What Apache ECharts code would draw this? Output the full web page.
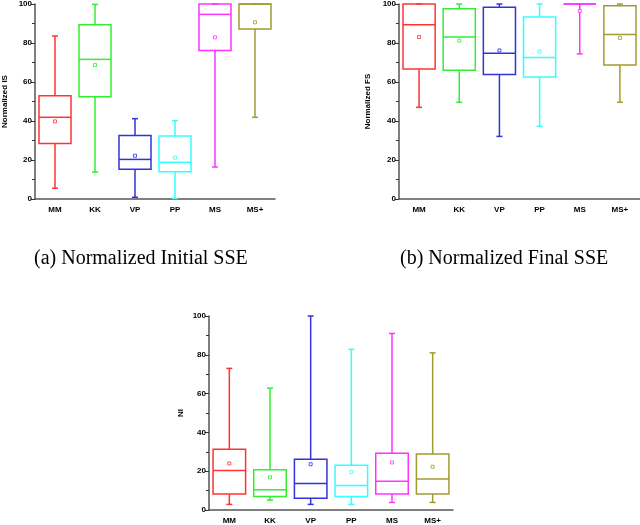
<!DOCTYPE html>
<html>
<head>
<meta charset="utf-8">
<script src="https://cdn.jsdelivr.net/npm/echarts@6/dist/echarts.min.js"></script>
<style>html,body{margin:0;padding:0;background:#fff}#c{width:640px;height:525px}</style>
</head>
<body>
<div id="c"></div>
<script>
// Categories and colours
var categories = ['MM', 'KK', 'VP', 'PP', 'MS', 'MS+'];
var colors = ['#ff3333', '#33ee33', '#3333dd', '#33ffff', '#ff33ff', '#a09c30'];
var yTicks = [0, 20, 40, 60, 80, 100];

// Chart (a) Normalized IS: [min, q1, median, q3, max]
var isBox = [
  [5.5, 28.5, 41.9, 53.0, 83.6],
  [13.8, 52.5, 71.6, 89.4, 99.8],
  [0.9, 15.2, 20.3, 32.6, 41.2],
  [0.3, 14.0, 18.8, 32.3, 40.2],
  [16.4, 76.2, 94.7, 100, 100],
  [41.9, 87.2, 100, 100, 100]
];
var isMean = [39.8, 68.7, 22.2, 21.2, 82.9, 90.6];

// Chart (b) Normalized FS
var fsBox = [
  [47.0, 66.7, 89.4, 100, 100],
  [49.6, 66.0, 83.1, 97.6, 100],
  [32.1, 63.9, 74.7, 98.3, 100],
  [37.3, 62.6, 72.6, 93.3, 100],
  [74.4, 100, 100, 100, 100],
  [49.6, 68.7, 84.4, 99.1, 100]
];
var fsMean = [83.1, 81.2, 76.2, 75.6, 96.4, 82.6];

// Chart (c) NI
var niBox = [
  [2.9, 8.2, 20.4, 31.3, 73.0],
  [5.1, 7.0, 10.5, 20.7, 62.8],
  [2.9, 6.0, 13.6, 26.2, 100],
  [2.9, 7.0, 12.6, 23.1, 82.8],
  [3.9, 8.3, 14.8, 29.3, 91.0],
  [3.9, 8.3, 16.0, 28.9, 81.0]
];
var niMean = [24.0, 16.8, 23.6, 19.6, 24.5, 22.3];

var yNames = ['Normalized IS', 'Normalized FS', 'NI'];
var captions = ['(a) Normalized Initial SSE', '(b) Normalized Final SSE'];

var chart = echarts.init(document.getElementById('c'));

var grids = [
  {left: 33, top: 4, width: 242, height: 195},
  {left: 399, top: 4, width: 242, height: 195},
  {left: 209, top: 316, width: 244, height: 196}
];
var nameGaps = [26, 27, 24];

var labelFont = {fontFamily: 'Liberation Sans, Arial, sans-serif', fontWeight: 'bold', fontSize: 8, color: '#000'};

var xAxes = [], yAxes = [], series = [];
var boxes = [isBox, fsBox, niBox];
var means = [isMean, fsMean, niMean];

function renderBox(params, api) {
  var i = api.value(0);
  var pMin = api.coord([i, api.value(1)]);
  var pQ1 = api.coord([i, api.value(2)]);
  var pMed = api.coord([i, api.value(3)]);
  var pQ3 = api.coord([i, api.value(4)]);
  var pMax = api.coord([i, api.value(5)]);
  var band = api.size([1, 0])[0];
  var bw = band * 0.8;
  var cw = 6;
  var cx = pMed[0];
  var st = {stroke: colors[params.dataIndex], lineWidth: 1.5, fill: null};
  return {
    type: 'group',
    children: [
      {type: 'rect', shape: {x: cx - bw / 2, y: pQ3[1], width: bw, height: pQ1[1] - pQ3[1]}, style: {stroke: st.stroke, lineWidth: 1.5, fill: 'none'}},
      {type: 'line', shape: {x1: cx - bw / 2, y1: pMed[1], x2: cx + bw / 2, y2: pMed[1]}, style: st},
      {type: 'line', shape: {x1: cx, y1: pQ3[1], x2: cx, y2: pMax[1]}, style: st},
      {type: 'line', shape: {x1: cx, y1: pQ1[1], x2: cx, y2: pMin[1]}, style: st},
      {type: 'line', shape: {x1: cx - cw / 2, y1: pMax[1], x2: cx + cw / 2, y2: pMax[1]}, style: st},
      {type: 'line', shape: {x1: cx - cw / 2, y1: pMin[1], x2: cx + cw / 2, y2: pMin[1]}, style: st}
    ]
  };
}

for (var k = 0; k < 3; k++) {
  xAxes.push({
    type: 'category', gridIndex: k, data: categories, boundaryGap: true,
    axisLine: {lineStyle: {color: '#555', width: 1.5}},
    axisTick: {show: false},
    axisLabel: Object.assign({margin: 7, interval: 0}, labelFont),
    splitLine: {show: false}
  });
  yAxes.push({
    type: 'value', gridIndex: k, min: 0, max: 100, interval: 20,
    name: yNames[k], nameLocation: 'middle', nameGap: nameGaps[k], nameRotate: 90,
    nameTextStyle: labelFont,
    axisLine: {show: true, lineStyle: {color: '#555', width: 1.5}},
    axisTick: {show: true, length: 4, lineStyle: {color: '#333'}},
    minorTick: {show: true, splitNumber: 2, length: 3, lineStyle: {color: '#333'}},
    axisLabel: Object.assign({margin: 3}, labelFont),
    splitLine: {show: false}
  });
  var boxData = boxes[k].map(function (b, i) { return [i].concat(b); });
  series.push({
    type: 'custom', xAxisIndex: k, yAxisIndex: k,
    renderItem: renderBox,
    encode: {x: 0, y: [1, 2, 3, 4, 5]},
    data: boxData, silent: true
  });
  series.push({
    type: 'scatter', xAxisIndex: k, yAxisIndex: k,
    symbol: 'rect', symbolSize: 3,
    data: means[k].map(function (m, i) {
      return {value: [i, m], itemStyle: {color: '#fff', borderColor: colors[i], borderWidth: 1}};
    }),
    silent: true, z: 5
  });
}

chart.setOption({
  animation: false,
  backgroundColor: '#fff',
  grid: grids,
  xAxis: xAxes,
  yAxis: yAxes,
  series: series,
  graphic: [
    {type: 'text', x: 34, y: 259, style: {text: captions[0], font: '20px "Liberation Serif", serif', fill: '#000', verticalAlign: 'middle'}},
    {type: 'text', x: 400, y: 259, style: {text: captions[1], font: '20px "Liberation Serif", serif', fill: '#000', verticalAlign: 'middle'}}
  ]
});
</script>
</body>
</html>
